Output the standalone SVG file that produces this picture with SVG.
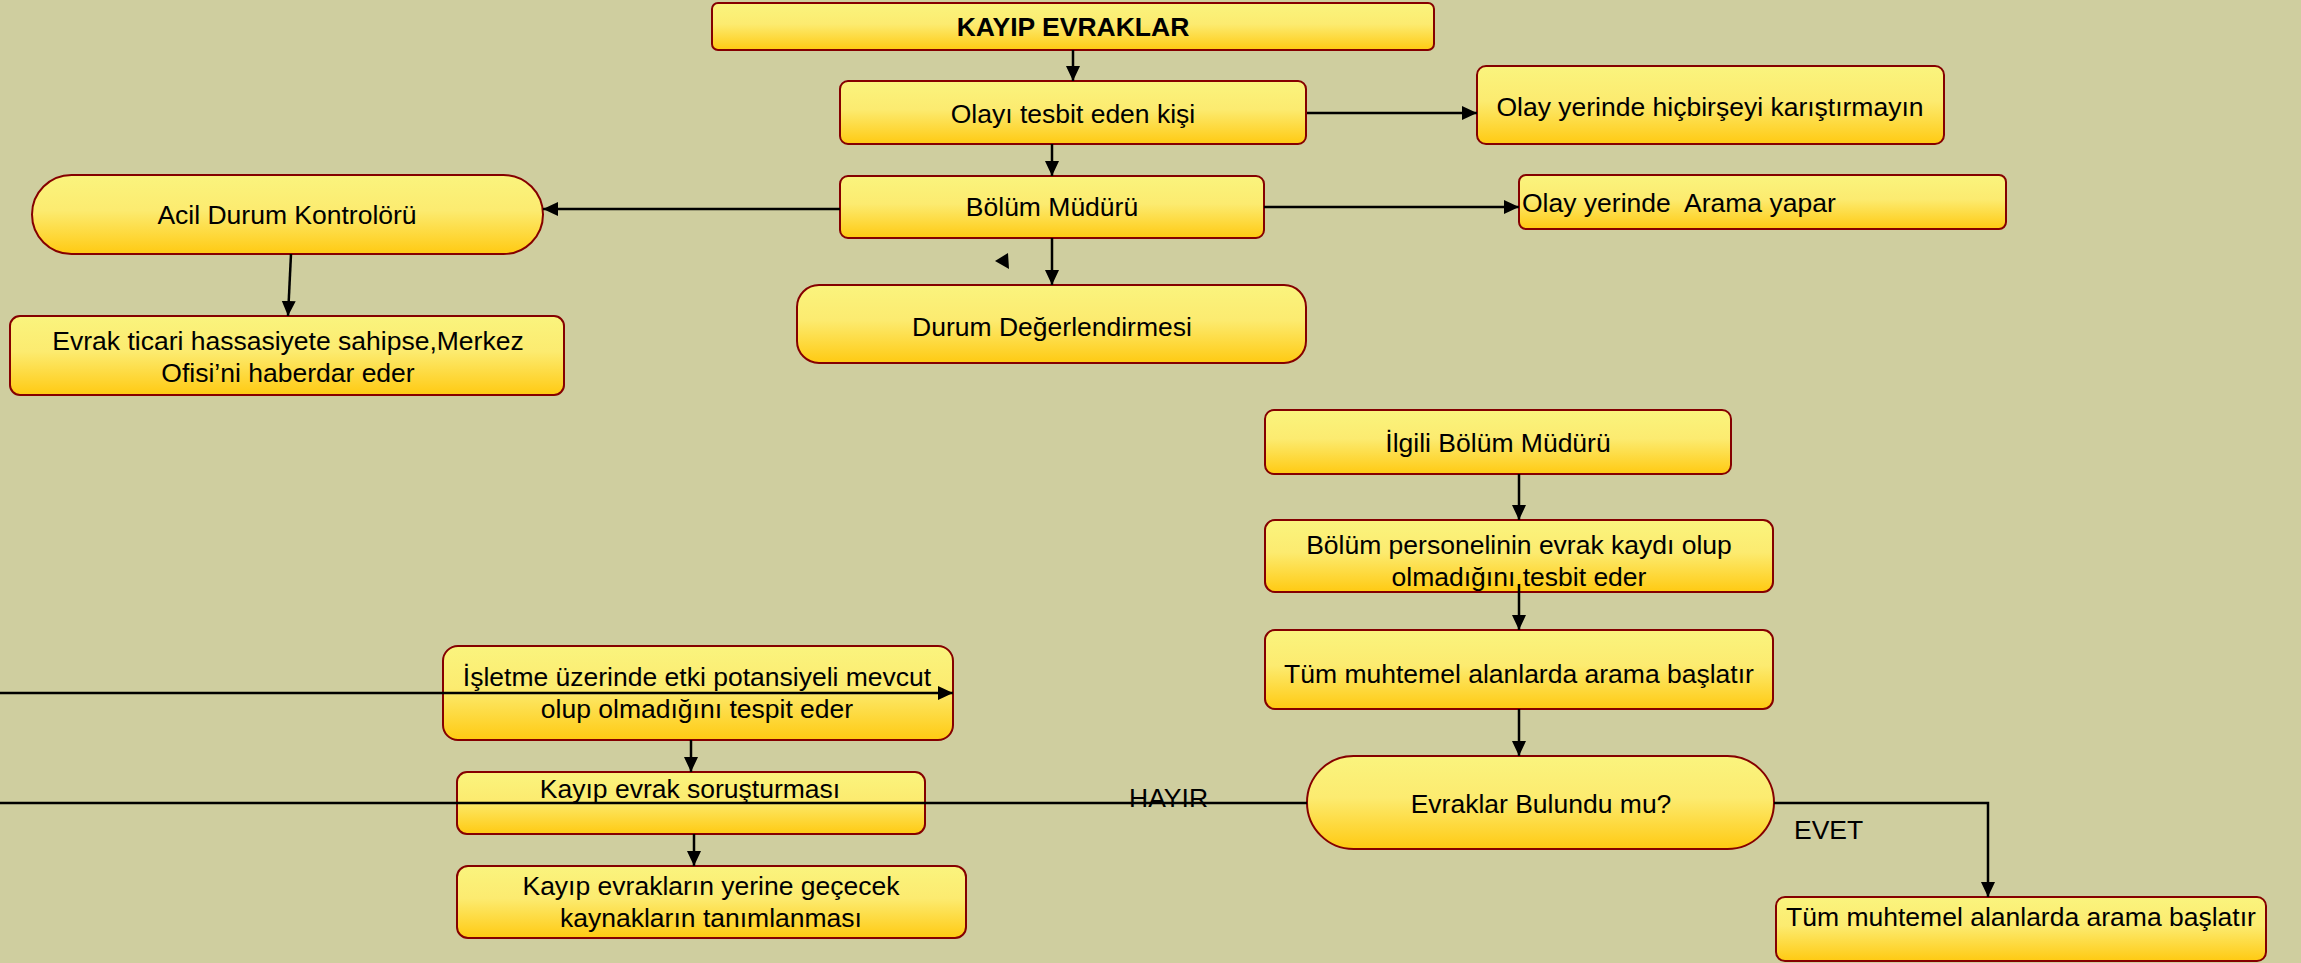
<svg xmlns="http://www.w3.org/2000/svg" width="2301" height="963" viewBox="0 0 2301 963">
<style>
.n{stroke:#850000;stroke-width:2;fill:url(#g)}
.t{font-family:"Liberation Sans",Arial,sans-serif;font-size:26.5px;fill:#000;text-anchor:middle}
.l{font-family:"Liberation Sans",Arial,sans-serif;font-size:26.5px;fill:#000}
.e{stroke:#000;stroke-width:2.5;fill:none}
.a{marker-end:url(#ar)}
</style>
<defs>
<linearGradient id="g" x1="0" y1="0" x2="0" y2="1">
<stop offset="0" stop-color="#FAF47E"/>
<stop offset="0.45" stop-color="#FCEB70"/>
<stop offset="1" stop-color="#FFCA12"/>
</linearGradient>
<marker id="ar" markerUnits="userSpaceOnUse" markerWidth="16" markerHeight="16" refX="15" refY="7" orient="auto">
<path d="M0,0 L15,7 L0,14 z" fill="#000"/>
</marker>
</defs>
<rect width="2301" height="963" fill="#CFCE9F"/>

<g id="n1"><rect class="n" x="712" y="3" width="722" height="47" rx="6"/><text class="t" x="1073" y="36" font-weight="bold">KAYIP EVRAKLAR</text></g>
<g id="n2"><rect class="n" x="840" y="81" width="466" height="63" rx="8"/><text class="t" x="1073" y="123">Olayı tesbit eden kişi</text></g>
<g id="n3"><rect class="n" x="1477" y="66" width="467" height="78" rx="9"/><text class="t" x="1710" y="116">Olay yerinde hiçbirşeyi karıştırmayın</text></g>
<g id="n4"><rect class="n" x="840" y="176" width="424" height="62" rx="8"/><text class="t" x="1052" y="216">Bölüm Müdürü</text></g>
<g id="n5"><rect class="n" x="1519" y="175" width="487" height="54" rx="7"/><text class="l" x="1522" y="212" xml:space="preserve">Olay yerinde  Arama yapar</text></g>
<g id="n6"><rect class="n" x="32" y="175" width="511" height="79" rx="39.5"/><text class="t" x="287" y="224">Acil Durum Kontrolörü</text></g>
<g id="n7"><rect class="n" x="10" y="316" width="554" height="79" rx="10"/><text class="t" x="288" y="350">Evrak ticari hassasiyete sahipse,Merkez</text><text class="t" x="288" y="382">Ofisi’ni haberdar eder</text></g>
<g id="n8"><rect class="n" x="797" y="285" width="509" height="78" rx="22"/><text class="t" x="1052" y="336">Durum Değerlendirmesi</text></g>
<g id="n9"><rect class="n" x="1265" y="410" width="466" height="64" rx="9"/><text class="t" x="1498" y="452">İlgili Bölüm Müdürü</text></g>
<g id="n10"><rect class="n" x="1265" y="520" width="508" height="72" rx="10"/><text class="t" x="1519" y="554">Bölüm personelinin evrak kaydı olup</text><text class="t" x="1519" y="586">olmadığını tesbit eder</text></g>
<g id="n11"><rect class="n" x="1265" y="630" width="508" height="79" rx="10"/><text class="t" x="1519" y="683">Tüm muhtemel alanlarda arama başlatır</text></g>
<g id="n12"><rect class="n" x="1307" y="756" width="467" height="93" rx="46.5"/><text class="t" x="1541" y="813">Evraklar Bulundu mu?</text></g>
<g id="n13"><rect class="n" x="1776" y="897" width="490" height="64" rx="9"/><text class="t" x="2021" y="926">Tüm muhtemel alanlarda arama başlatır</text></g>
<g id="n14"><rect class="n" x="443" y="646" width="510" height="94" rx="15"/><text class="t" x="697" y="686">İşletme üzerinde etki potansiyeli mevcut</text><text class="t" x="697" y="718">olup olmadığını tespit eder</text></g>
<g id="n15"><rect class="n" x="457" y="772" width="468" height="62" rx="10"/><text class="t" x="690" y="798">Kayıp evrak soruşturması</text></g>
<g id="n16"><rect class="n" x="457" y="866" width="509" height="72" rx="11"/><text class="t" x="711" y="895">Kayıp evrakların yerine geçecek</text><text class="t" x="711" y="927">kaynakların tanımlanması</text></g>

<g id="edges">
<path class="e a" d="M1073,50 L1073,81"/>
<path class="e a" d="M1307,113 L1477,113"/>
<path class="e a" d="M1052,144 L1052,176"/>
<path class="e a" d="M840,209 L543,209"/>
<path class="e a" d="M1264,207 L1519,207"/>
<path class="e a" d="M1052,238 L1052,285"/>
<path d="M995,261 L1008,253 L1009,269 z" fill="#000"/>
<path class="e a" d="M291,254 L288,316"/>
<path class="e a" d="M1519,474 L1519,520"/>
<path class="e a" d="M1519,584 L1519,630"/>
<path class="e a" d="M1519,709 L1519,756"/>
<path class="e a" d="M1774,803 L1988,803 L1988,897"/>
<path class="e" d="M1307,803 L0,803"/>
<path class="e a" d="M0,693 L953,693"/>
<path class="e a" d="M691,740 L691,772"/>
<path class="e a" d="M694,834 L694,866"/>
<text class="l" x="1129" y="807">HAYIR</text>
<text class="l" x="1794" y="839">EVET</text>
</g>
</svg>
